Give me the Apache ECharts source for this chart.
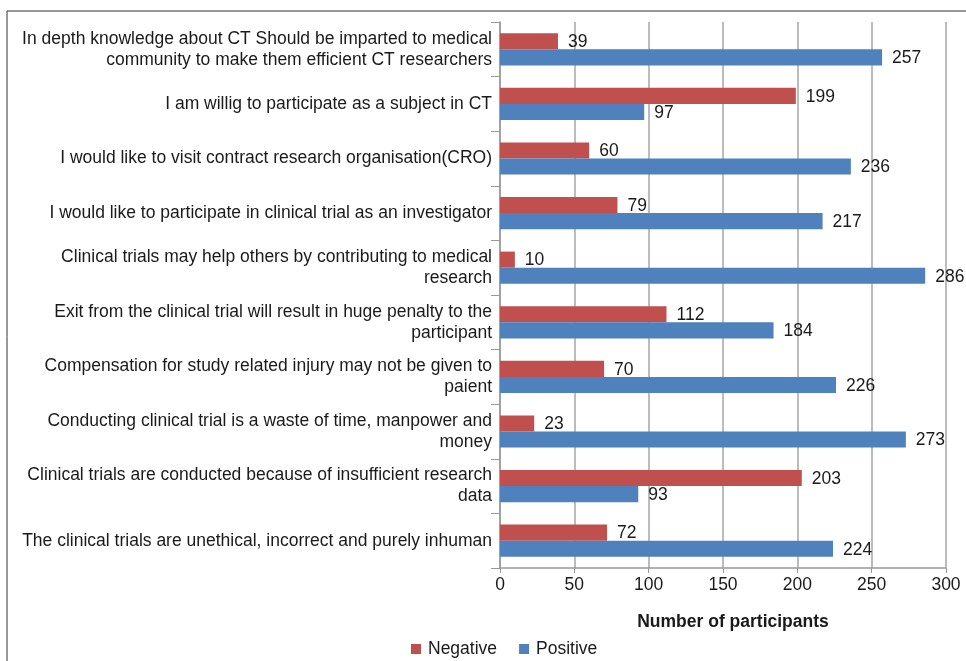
<!DOCTYPE html>
<html>
<head>
<meta charset="utf-8">
<script src="https://cdn.jsdelivr.net/npm/echarts@6/dist/echarts.min.js"></script>
<style>
  html, body { margin: 0; padding: 0; background: #fff; }
  #chart { width: 966px; height: 661px; }
</style>
</head>
<body>
<div id="chart"></div>
<script>
const categories = [
  'In depth knowledge about CT Should be imparted to medical\ncommunity to make them efficient CT researchers',
  'I am willig to participate as a subject in CT',
  'I would like to visit contract research organisation(CRO)',
  'I would like to participate in clinical trial as an investigator',
  'Clinical trials may help others by contributing to medical\nresearch',
  'Exit from the clinical trial will result in huge penalty to the\nparticipant',
  'Compensation for study related injury may not be given to\npaient',
  'Conducting clinical trial is a waste of time, manpower and\nmoney',
  'Clinical trials are conducted because of insufficient research\ndata',
  'The clinical trials are unethical, incorrect and purely inhuman'
];
const negative = [39, 199, 60, 79, 10, 112, 70, 23, 203, 72];
const positive = [257, 97, 236, 217, 286, 184, 226, 273, 93, 224];

const font = 'Liberation Sans, Arial, sans-serif';
const fs = 17.5;

const chart = echarts.init(document.getElementById('chart'));
chart.setOption({
  animation: false,
  textStyle: { fontFamily: font },
  graphic: [{
    type: 'rect',
    shape: { x: 7, y: 11, width: 980, height: 680 },
    style: { fill: 'none', stroke: '#333', lineWidth: 1 }
  }],
  legend: {
    top: 640,
    left: 411,
    padding: 0,
    itemWidth: 10,
    itemHeight: 10,
    itemGap: 22,
    icon: 'rect',
    textStyle: { fontSize: fs, color: '#1a1a1a', fontFamily: font, padding: [0, 0, 0, 2] },
    data: ['Negative', 'Positive']
  },
  grid: { left: 500, right: 20, top: 22, bottom: 93 },
  xAxis: {
    type: 'value',
    min: 0,
    max: 300,
    interval: 50,
    name: 'Number of participants',
    nameLocation: 'middle',
    nameGap: 45,
    nameTextStyle: { fontSize: fs, fontWeight: 'bold', color: '#1a1a1a', fontFamily: font, padding: [0, 0, 0, 20] },
    axisLine: { show: true, lineStyle: { color: '#999', width: 1.5 } },
    axisTick: { show: true, length: 5, lineStyle: { color: '#999' } },
    axisLabel: { fontSize: fs, color: '#1a1a1a', margin: 8 },
    splitLine: { show: true, lineStyle: { color: '#a6a6a6', width: 1.5 } }
  },
  yAxis: {
    type: 'category',
    inverse: true,
    data: categories,
    axisLine: { show: true, lineStyle: { color: '#999', width: 1.5 } },
    axisTick: { show: true, length: 9, lineStyle: { color: '#999' } },
    axisLabel: { fontSize: fs, color: '#1a1a1a', lineHeight: 21, margin: 8 }
  },
  series: [
    {
      name: 'Negative',
      type: 'bar',
      data: negative,
      barGap: '0%',
      barCategoryGap: '41%',
      itemStyle: { color: '#C0504D' },
      label: { show: true, position: 'right', distance: 10, offset: [0, 1], fontSize: fs, color: '#1a1a1a' }
    },
    {
      name: 'Positive',
      type: 'bar',
      data: positive,
      barGap: '0%',
      barCategoryGap: '41%',
      itemStyle: { color: '#4F81BD' },
      label: { show: true, position: 'right', distance: 10, offset: [0, 1], fontSize: fs, color: '#1a1a1a' }
    }
  ]
});
</script>
</body>
</html>
